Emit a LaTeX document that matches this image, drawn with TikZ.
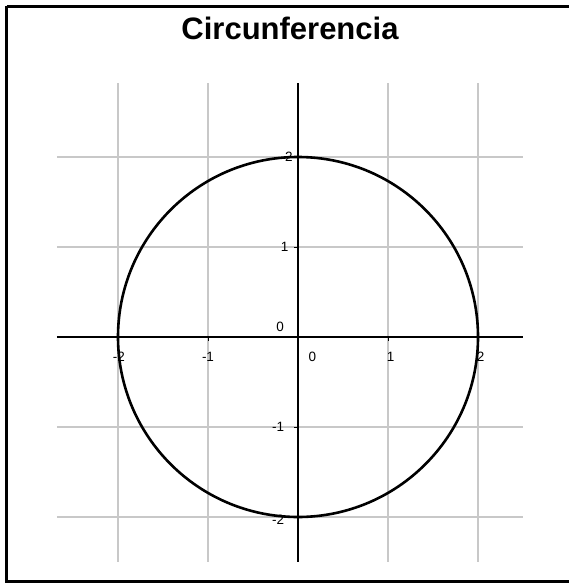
\documentclass[tikz,border=0pt]{standalone}
\usepackage{fontspec}
\setmainfont{Liberation Sans}
\begin{document}
\begin{tikzpicture}[x=1pt,y=-1pt,
  gridline/.style={draw={rgb,255:red,200;green,200;blue,200}, line width=1.6pt},
  axisline/.style={draw=black, line width=1.2pt},
  curve/.style={draw=black, line width=2.6pt},
  lbl/.style={font=\fontsize{13.5}{15}\selectfont, inner sep=0pt},
  frame/.style={draw=black, line width=2.2pt}]
\useasboundingbox (0,0) rectangle (569,583);
\draw[frame] (6.5,6.5) -- (6.5,590) (6.5,6.5) -- (580,6.5) (6.5,581.5) -- (580,581.5);
\node[font=\bfseries\fontsize{31}{35}\selectfont, inner sep=0pt] (title) at (290,28) {Circunferencia};
\begin{scope}[shift={(298,337)}, x=90pt, y=90pt]
  \foreach \v in {-2,-1,1,2} {
    \draw[gridline] (\v,2.82) -- (\v,-2.5);
    \draw[gridline] (-2.68,\v) -- (2.5,\v);
  }
  \draw[axisline] (-2.68,0) -- (2.5,0);
  \draw[axisline] (0,2.82) -- (0,-2.5);
  \foreach \v in {-2,-1,1,2} {
    \draw[axisline, line width=0.9pt] (\v,0) -- (\v,-0.04);
    \draw[axisline, line width=0.9pt] (0,\v) -- (-0.04,\v);
  }
  \coordinate (O) at (0,0);
  \draw[curve] (O) circle[radius=2];
  \node[lbl] (xm2) at (-1.99,-0.22) {-2};
  \node[lbl] (xm1) at (-1.0,-0.22) {-1};
  \node[lbl] (x0) at (0.16,-0.22) {0};
  \node[lbl] (x1) at (1.03,-0.22) {1};
  \node[lbl] (x2) at (2.03,-0.22) {2};
  \node[lbl] (o0) at (-0.2,0.11) {0};
  \node[lbl] (y2) at (-0.1,2) {2};
  \node[lbl] (y1) at (-0.15,1) {1};
  \node[lbl] (ym1) at (-0.22,-1) {-1};
  \node[lbl] (ym2) at (-0.22,-2.03) {-2};
\end{scope}
\end{tikzpicture}
\end{document}
